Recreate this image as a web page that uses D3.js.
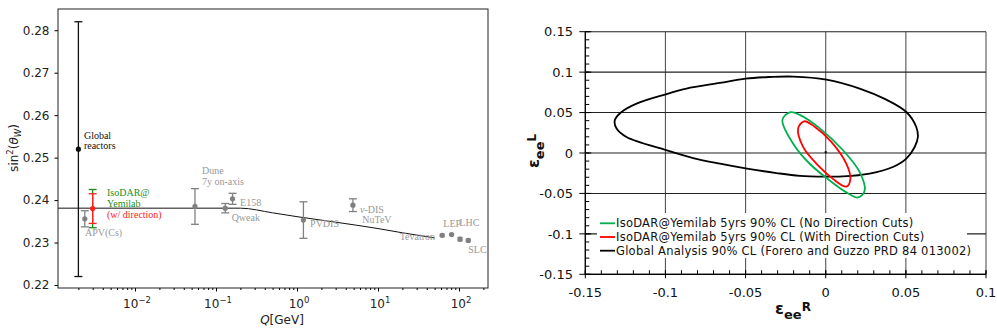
<!DOCTYPE html>
<html>
<head>
<meta charset="utf-8">
<title>Weak mixing angle and NSI constraints</title>
<script src="https://cdn.jsdelivr.net/npm/d3@7"></script>
<style>
body { margin: 0; background: #fff; }
svg { display: block; }
.ann { font-family: "Liberation Serif", "DejaVu Serif", serif; font-size: 10px; }
.lax text { font-family: "DejaVu Sans", sans-serif; font-size: 12px; fill: #222; }
.rax text { font-family: "DejaVu Sans", sans-serif; font-size: 13px; fill: #111; }
.leg { font-family: "DejaVu Sans", sans-serif; font-size: 11.5px; letter-spacing: 0.25px; fill: #111; }
</style>
</head>
<body>
<div id="graphic"></div>
<script>
// ---------- left panel: sin^2(theta_W) vs Q ----------
var expNames = ["APV(Cs)", "Dune", "Qweak", "E158", "PVDIS", "NuTeV", "Tevatron", "LEP", "LHC", "SLC"];
var expQ     = [0.0024, 0.055, 0.13, 0.16, 1.2, 4.9, 62, 81, 103, 130];
var expS     = [0.2356, 0.2385, 0.2381, 0.2403, 0.2353, 0.2388, 0.2317, 0.2319, 0.2308, 0.2305];
var expErr   = [0.0019, 0.0042, 0.0011, 0.0013, 0.0043, 0.0015, 0.0003, 0.0002, 0.0004, 0.0003];

var reactorQ = 0.002, reactorS = 0.252, reactorErr = 0.030;
var isodarQ = 0.003, isodarS = 0.238, isodarErrNoDir = 0.0045, isodarErrDir = 0.0035;

// running of the weak mixing angle (MS-bar)
var runQ = [0.00112, 0.2, 0.5, 1, 3, 10, 20, 50];
var runS = [0.2381, 0.2381, 0.2370, 0.2361, 0.2348, 0.2333, 0.2323, 0.2311];

// text labels, anchored in data coordinates
var leftLabels = [
  {t: "Global", q: 0.00234, s: 0.2553, c: "#111"},
  {t: "reactors", q: 0.00234, s: 0.2528, c: "#111"},
  {t: "IsoDAR@", q: 0.00451, s: 0.2417, c: "#1a8f1a"},
  {t: "Yemilab", q: 0.00451, s: 0.2392, c: "#1a8f1a"},
  {t: "(w/ direction)", q: 0.00451, s: 0.2367, c: "#ff2020"},
  {t: "APV(Cs)", q: 0.00241, s: 0.2323, c: "#999"},
  {t: "Dune", q: 0.0671, s: 0.2469, c: "#999"},
  {t: "7y on-axis", q: 0.0671, s: 0.2443, c: "#999"},
  {t: "E158", q: 0.198, s: 0.2395, c: "#999"},
  {t: "Qweak", q: 0.156, s: 0.2359, c: "#999"},
  {t: "PVDIS", q: 1.45, s: 0.2345, c: "#999"},
  {t: "-DIS", q: 6.0, s: 0.2378, c: "#999", nu: true},
  {t: "NuTeV", q: 6.4, s: 0.2355, c: "#999"},
  {t: "Tevatron", q: 50.6, s: 0.2315, c: "#999", end: true},
  {t: "LEP", q: 64, s: 0.2344, c: "#999"},
  {t: "LHC", q: 101, s: 0.2347, c: "#999"},
  {t: "SLC", q: 130, s: 0.2284, c: "#999"}
];

var yTicksL = [0.22, 0.23, 0.24, 0.25, 0.26, 0.27, 0.28];
var xDecades = [-2, -1, 0, 1, 2];

// ---------- right panel: epsilon_ee^L vs epsilon_ee^R ----------
var globalR = [-0.1316, -0.1274, -0.1180, -0.0998, -0.0869, -0.0661, -0.0500, -0.0349, -0.0204, 0.0004,
               0.0212, 0.0378, 0.0503, 0.0565, 0.0575, 0.0555, 0.0503, 0.0419, 0.0274, 0.0108,
               0.0000, -0.0161, -0.0307, -0.0500, -0.0660, -0.0827, -0.1003, -0.1243, -0.1305];
var globalL = [0.0405, 0.0507, 0.0611, 0.0726, 0.0797, 0.0866, 0.0920, 0.0940, 0.0945, 0.0908,
               0.0797, 0.0660, 0.0507, 0.0322, 0.0198, 0.0074, -0.0069, -0.0173, -0.0255, -0.0290,
               -0.0292, -0.0282, -0.0248, -0.0190, -0.0132, -0.0062, 0.0040, 0.0198, 0.0302];

var noDirR = [-0.0270, -0.0220, -0.0162, -0.0037, 0.0108, 0.0212, 0.0243, 0.0201, 0.0129, 0.0025, -0.0100, -0.0204];
var noDirL = [0.0410, 0.0505, 0.0471, 0.0305, 0.0034, -0.0237, -0.0466, -0.0550, -0.0487, -0.0340, -0.0133, 0.0118];

var dirR = [-0.0172, -0.0135, -0.0069, 0.0035, 0.0129, 0.0154, 0.0129, 0.0045, -0.0048, -0.0141];
var dirL = [0.0305, 0.0392, 0.0325, 0.0138, -0.0133, -0.0320, -0.0416, -0.0320, -0.0154, 0.0075];

var bestFit = [0.0, 0.001];

var legendNames = [
  "IsoDAR@Yemilab 5yrs 90% CL (No Direction Cuts)",
  "IsoDAR@Yemilab 5yrs 90% CL (With Direction Cuts)",
  "Global Analysis 90% CL (Forero and Guzzo PRD 84 013002)"
];
var legendColors = ["#00b050", "#ff0000", "#000000"];

var rTicksX = [-0.15, -0.1, -0.05, 0, 0.05, 0.1];
var rTicksY = [-0.15, -0.1, -0.05, 0, 0.05, 0.1, 0.15];

// =======================================================
var w = 997, h = 329;
var svg = d3.select("#graphic").append("svg")
    .attr("width", w).attr("height", h);

// ---------------- left panel ----------------
var L = {x0: 58, x1: 488, y0: 9, y1: 288};
var xL = d3.scaleLog().domain([0.00112, 228]).range([L.x0, L.x1]);
var yL = d3.scaleLinear().domain([0.2193, 0.2850]).range([L.y1, L.y0]);

var gl = svg.append("g");

// running curve
var runLine = d3.line()
    .x(function(d) { return xL(d[0]); })
    .y(function(d) { return yL(d[1]); })
    .curve(d3.curveMonotoneX);
gl.append("path")
    .datum(runQ.map(function(q, i) { return [q, runS[i]]; }))
    .attr("d", runLine)
    .attr("fill", "none")
    .attr("stroke", "#111")
    .attr("stroke-width", 1);

function errBar(g, q, s, e, color, cap) {
  var x = xL(q);
  g.append("line").attr("x1", x).attr("x2", x)
    .attr("y1", yL(s - e)).attr("y2", yL(s + e))
    .attr("stroke", color).attr("stroke-width", 1.3);
  [s - e, s + e].forEach(function(v) {
    g.append("line").attr("x1", x - cap).attr("x2", x + cap)
      .attr("y1", yL(v)).attr("y2", yL(v))
      .attr("stroke", color).attr("stroke-width", 1.3);
  });
}

// experiments (grey)
expQ.forEach(function(q, i) {
  errBar(gl, q, expS[i], expErr[i], "#808080", q > 20 ? 2.5 : 4);
});
gl.selectAll("circle.exp")
    .data(expQ)
    .enter().append("circle")
    .attr("class", "exp")
    .attr("cx", function(d) { return xL(d); })
    .attr("cy", function(d, i) { return yL(expS[i]); })
    .attr("r", 2.6)
    .attr("fill", "#808080");

// global reactors
errBar(gl, reactorQ, reactorS, reactorErr, "#111", 4);
gl.append("circle").attr("cx", xL(reactorQ)).attr("cy", yL(reactorS))
    .attr("r", 2.6).attr("fill", "#111");

// IsoDAR
errBar(gl, isodarQ, isodarS, isodarErrNoDir, "#1a8f1a", 4);
errBar(gl, isodarQ, isodarS, isodarErrDir, "#ff2020", 4);
gl.append("circle").attr("cx", xL(isodarQ)).attr("cy", yL(isodarS))
    .attr("r", 2.6).attr("fill", "#ff2020");

// labels
var ann = gl.selectAll("text.ann")
    .data(leftLabels)
    .enter().append("text")
    .attr("class", "ann")
    .attr("x", function(d) { return xL(d.q); })
    .attr("y", function(d) { return yL(d.s); })
    .attr("dy", "0.35em")
    .attr("text-anchor", function(d) { return d.end ? "end" : "start"; })
    .attr("fill", function(d) { return d.c; });
ann.filter(function(d) { return d.nu; })
    .append("tspan").attr("font-style", "italic").text("\u03bd");
ann.append("tspan").text(function(d) { return d.t; });

// frame
gl.append("rect")
    .attr("x", L.x0).attr("y", L.y0)
    .attr("width", L.x1 - L.x0).attr("height", L.y1 - L.y0)
    .attr("fill", "none").attr("stroke", "#222").attr("stroke-width", 1);

// axes
var axL = gl.append("g").attr("class", "lax")
    .attr("transform", "translate(" + L.x0 + ",0)")
    .call(d3.axisLeft(yL).tickValues(yTicksL).tickSize(3.5).tickPadding(5)
      .tickFormat(d3.format(".2f")));
axL.select(".domain").remove();

var majors = xDecades.map(function(p) { return Math.pow(10, p); });
var minors = [];
[-3, -2, -1, 0, 1, 2].forEach(function(p) {
  for (var k = 2; k <= 9; k++) {
    var v = k * Math.pow(10, p);
    if (v > xL.domain()[0] && v < xL.domain()[1]) minors.push(v);
  }
});
var axB = gl.append("g").attr("class", "lax")
    .attr("transform", "translate(0," + L.y1 + ")")
    .call(d3.axisBottom(xL).tickValues(majors).tickSize(3.5).tickFormat(""));
axB.select(".domain").remove();
var axBm = gl.append("g").attr("class", "lax")
    .attr("transform", "translate(0," + L.y1 + ")")
    .call(d3.axisBottom(xL).tickValues(minors).tickSize(2).tickFormat(""));
axBm.select(".domain").remove();

var decLab = gl.append("g").attr("class", "lax");
xDecades.forEach(function(p) {
  var t = decLab.append("text")
      .attr("x", xL(Math.pow(10, p)) + 2)
      .attr("y", 308)
      .attr("text-anchor", "middle");
  t.append("tspan").text("10");
  t.append("tspan").attr("dy", -5).attr("font-size", "8.5px")
    .text(p < 0 ? "\u2212" + (-p) : String(p));
});

var xt = gl.append("text")
    .attr("x", 282).attr("y", 324)
    .attr("text-anchor", "middle")
    .style("font-family", "DejaVu Sans, sans-serif").style("font-size", "12px").attr("fill", "#222");
xt.append("tspan").attr("font-style", "italic").text("Q");
xt.append("tspan").text("[GeV]");

var yt = gl.append("text")
    .attr("transform", "translate(18,148) rotate(-90)")
    .attr("text-anchor", "middle")
    .style("font-family", "DejaVu Sans, sans-serif").style("font-size", "12px").attr("fill", "#222");
yt.append("tspan").text("sin");
yt.append("tspan").attr("dy", -5).attr("font-size", "8.5px").text("2");
yt.append("tspan").attr("dy", 5).text("(");
yt.append("tspan").attr("font-style", "italic").text("\u03b8");
yt.append("tspan").attr("dy", 3).attr("font-size", "8.5px").attr("font-style", "italic").text("W");
yt.append("tspan").attr("dy", -3).text(")");

// ---------------- right panel ----------------
var R = {x0: 585.3, x1: 986, y0: 31.7, y1: 274.3};
var xR = d3.scaleLinear().domain([-0.15, 0.1]).range([R.x0, R.x1]);
var yR = d3.scaleLinear().domain([-0.15, 0.15]).range([R.y1, R.y0]);

var gr = svg.append("g");

// grid
gr.selectAll("line.vg").data(rTicksX).enter().append("line")
    .attr("x1", function(d) { return xR(d); }).attr("x2", function(d) { return xR(d); })
    .attr("y1", R.y0).attr("y2", R.y1)
    .attr("stroke", "#555").attr("stroke-width", 1.1);
gr.selectAll("line.hg").data(rTicksY).enter().append("line")
    .attr("x1", R.x0).attr("x2", R.x1)
    .attr("y1", function(d) { return yR(d); }).attr("y2", function(d) { return yR(d); })
    .attr("stroke", "#222").attr("stroke-width", 1.1);

// contours
function contour(rs, ls) {
  return d3.line()
    .x(function(d) { return xR(d[0]); })
    .y(function(d) { return yR(d[1]); })
    .curve(d3.curveCatmullRomClosed.alpha(0.5))(rs.map(function(r, i) { return [r, ls[i]]; }));
}
gr.append("path").attr("d", contour(globalR, globalL))
    .attr("fill", "none").attr("stroke", "#000").attr("stroke-width", 1.8);
gr.append("path").attr("d", contour(noDirR, noDirL))
    .attr("fill", "none").attr("stroke", legendColors[0]).attr("stroke-width", 1.8);
gr.append("path").attr("d", contour(dirR, dirL))
    .attr("fill", "none").attr("stroke", legendColors[1]).attr("stroke-width", 1.8);
gr.append("rect").attr("x", xR(bestFit[0]) - 1).attr("y", yR(bestFit[1]) - 1)
    .attr("width", 2).attr("height", 2).attr("fill", "#000");

// legend
var lg = gr.append("g");
lg.append("rect").attr("x", 597).attr("y", 213).attr("width", 370).attr("height", 45).attr("fill", "#fff");
legendNames.forEach(function(name, i) {
  var yy = 223.3 + i * 13.7;
  lg.append("line").attr("x1", 600).attr("x2", 615).attr("y1", yy).attr("y2", yy)
    .attr("stroke", legendColors[i]).attr("stroke-width", 1.8);
  lg.append("text").attr("class", "leg").attr("x", 616).attr("y", yy).attr("dy", "0.36em").text(name);
});

// axes lines
gr.append("line").attr("x1", R.x0).attr("x2", R.x0).attr("y1", R.y0).attr("y2", R.y1)
    .attr("stroke", "#000").attr("stroke-width", 1.2);
gr.append("line").attr("x1", R.x0).attr("x2", R.x1).attr("y1", R.y1).attr("y2", R.y1)
    .attr("stroke", "#000").attr("stroke-width", 1.2);

var minorR = d3.range(-150, 101, 10).map(function(v) { return v / 1000; });
var minorL = d3.range(-150, 151, 10).map(function(v) { return v / 1000; });
gr.selectAll("line.mx").data(minorR).enter().append("line")
    .attr("x1", function(d) { return xR(d); }).attr("x2", function(d) { return xR(d); })
    .attr("y1", R.y1).attr("y2", R.y1 - 4).attr("stroke", "#000");
gr.selectAll("line.my").data(minorL).enter().append("line")
    .attr("x1", R.x0).attr("x2", R.x0 + 4)
    .attr("y1", function(d) { return yR(d); }).attr("y2", function(d) { return yR(d); })
    .attr("stroke", "#000");
gr.selectAll("line.Mx").data(rTicksX).enter().append("line")
    .attr("x1", function(d) { return xR(d); }).attr("x2", function(d) { return xR(d); })
    .attr("y1", R.y1 - 4).attr("y2", R.y1 + 4).attr("stroke", "#000");
gr.selectAll("line.My").data(rTicksY).enter().append("line")
    .attr("x1", R.x0 - 6).attr("x2", R.x0 + 6)
    .attr("y1", function(d) { return yR(d); }).attr("y2", function(d) { return yR(d); })
    .attr("stroke", "#000");

var fmt = function(d) { return d === 0 ? "0" : String(d); };
var rax = gr.append("g").attr("class", "rax");
rax.selectAll("text.tx").data(rTicksX).enter().append("text")
    .attr("x", function(d) { return xR(d); }).attr("y", 297)
    .attr("text-anchor", "middle").text(fmt);
rax.selectAll("text.ty").data(rTicksY).enter().append("text")
    .attr("x", 573).attr("y", function(d) { return yR(d); }).attr("dy", "0.36em")
    .attr("text-anchor", "end").text(fmt);

// axis titles
var xr = gr.append("text").attr("x", 793).attr("y", 314).attr("text-anchor", "middle")
    .style("font-family", "DejaVu Sans, sans-serif").attr("font-weight", "bold").attr("fill", "#111");
xr.append("tspan").attr("font-size", "16px").text("\u03b5");
xr.append("tspan").attr("font-size", "13px").attr("dy", 5).text("ee");
xr.append("tspan").attr("font-size", "12px").attr("dy", -8).text("R");

var yr = gr.append("text").attr("transform", "translate(539,151) rotate(-90)").attr("text-anchor", "middle")
    .style("font-family", "DejaVu Sans, sans-serif").attr("font-weight", "bold").attr("fill", "#111");
yr.append("tspan").attr("font-size", "16px").text("\u03b5");
yr.append("tspan").attr("font-size", "13px").attr("dy", 5).text("ee");
yr.append("tspan").attr("font-size", "12px").attr("dy", -8).text("L");
</script>
</body>
</html>
